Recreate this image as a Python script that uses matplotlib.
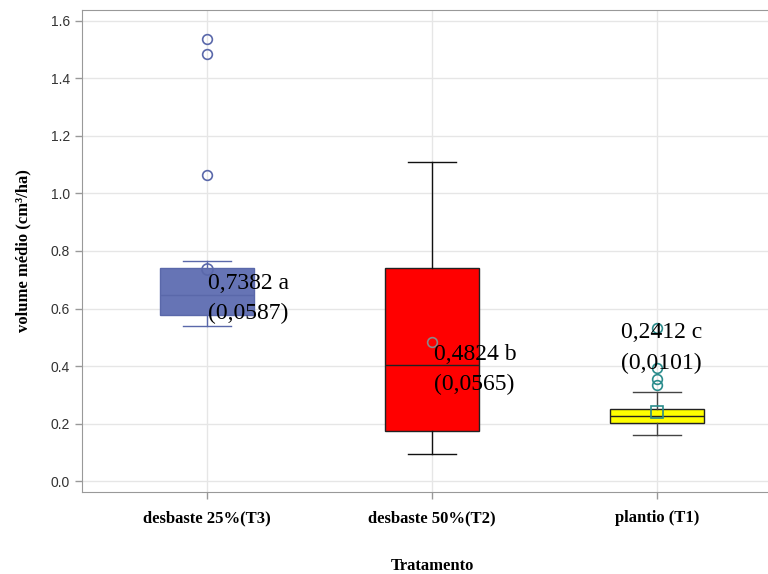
import matplotlib
matplotlib.use("Agg")
import matplotlib.pyplot as plt

tratamentos = ["desbaste 25%(T3)", "desbaste 50%(T2)", "plantio (T1)"]
q1 = [0.577, 0.174, 0.202]
mediana = [0.647, 0.403, 0.226]
q3 = [0.741, 0.741, 0.250]
whis_lo = [0.539, 0.094, 0.160]
whis_hi = [0.765, 1.110, 0.310]
medias = [0.7382, 0.4824, 0.2412]
outliers = [[1.537, 1.485, 1.064], [], [0.532, 0.393, 0.355, 0.334]]
rotulos = ["0,7382 a\n(0,0587)", "0,4824 b\n(0,0565)", "0,2412 c\n(0,0101)"]
rot_y = [0.635, 0.388, 0.462]
rot_dx = [0.005, 0.01, -0.16]

cor_caixa = ["#6674b5", "#ff0000", "#ffff00"]
cor_borda = ["#5a68aa", "#222222", "#222222"]
cor_bigode = ["#5a68aa", "#111111", "#444444"]
cor_out = ["#5a68aa", "#888888", "#2a8c8c"]
marca_media = ["o", "o", "s"]

fig = plt.figure(figsize=(7.68, 5.74), dpi=100)
ax = fig.add_axes([82 / 768, 82 / 574, 700 / 768, 482 / 574])

for i in range(3):
    stats = [dict(med=mediana[i], q1=q1[i], q3=q3[i], whislo=whis_lo[i],
                  whishi=whis_hi[i], fliers=outliers[i], mean=medias[i])]
    ax.bxp(stats, positions=[i], widths=0.42, patch_artist=True, showmeans=True,
           boxprops=dict(facecolor=cor_caixa[i], edgecolor=cor_borda[i], linewidth=1),
           medianprops=dict(color=cor_borda[i], linewidth=1),
           whiskerprops=dict(color=cor_bigode[i], linewidth=1),
           capprops=dict(color=cor_bigode[i], linewidth=1),
           flierprops=dict(marker="o", markerfacecolor="none", markeredgecolor=cor_out[i],
                           markersize=7, markeredgewidth=1.2),
           meanprops=dict(marker=marca_media[i], markerfacecolor="none",
                          markeredgecolor=cor_out[i], markersize=8 if i != 1 else 7,
                          markeredgewidth=1.2),
           zorder=3)
    ax.text(i + rot_dx[i], rot_y[i], rotulos[i], family="Liberation Serif",
            fontsize=17, ha="left", va="center", linespacing=1.6, zorder=5)

ax.set_xlim(-0.556, 2.556)
ax.set_ylim(-0.038, 1.638)
ax.set_yticks([0.0, 0.2, 0.4, 0.6, 0.8, 1.0, 1.2, 1.4, 1.6])
ax.set_yticklabels(["%.1f" % v for v in ax.get_yticks()], family="Liberation Sans",
                   fontsize=10, color="#333333")
ax.set_xticks([0, 1, 2])
ax.set_xticklabels(tratamentos, family="Liberation Serif", fontweight="bold", fontsize=12)
ax.tick_params(axis="both", color="#999999", length=5, width=1)
ax.tick_params(axis="x", pad=8)
ax.grid(True, color="#e6e6e6", linewidth=1, zorder=0)
ax.set_axisbelow(True)
for s in ax.spines.values():
    s.set_color("#999999")

ax.set_ylabel("volume médio (cm³/ha)", family="Liberation Serif", fontweight="bold",
              fontsize=12, labelpad=14)
ax.set_xlabel("Tratamento", family="Liberation Serif", fontweight="bold",
              fontsize=12, labelpad=23)

fig.savefig("out.png", dpi=100)
